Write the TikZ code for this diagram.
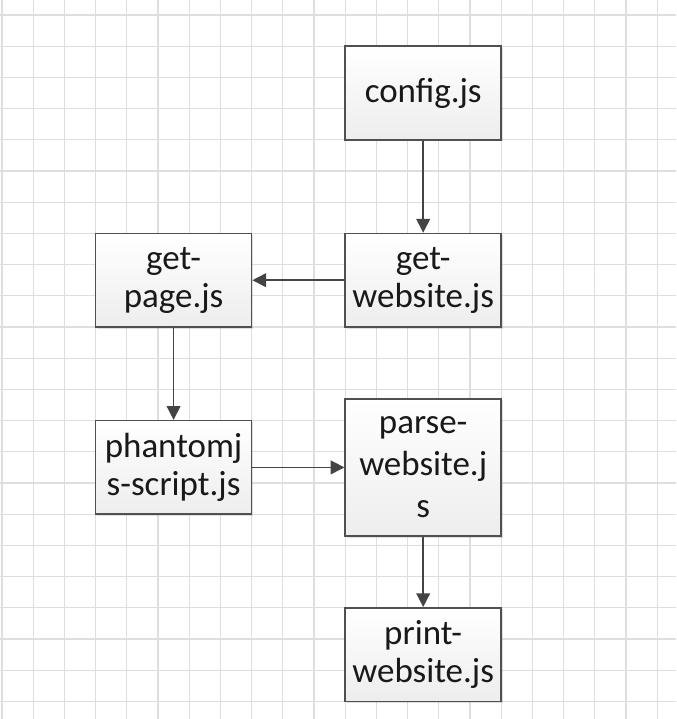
\documentclass[tikz,border=0pt]{standalone}
\usepackage{fontspec}
\setmainfont{Carlito}
\usetikzlibrary{arrows.meta,shadows}
\definecolor{gridgray}{RGB}{222,222,222}
\definecolor{boxline}{RGB}{80,80,80}
\definecolor{arrowgray}{RGB}{68,68,68}

\tikzset{
  filebox/.style={draw=boxline, line width=1.1pt, top color=white, bottom color=black!7,
    drop shadow={shadow xshift=1.2pt, shadow yshift=-1.2pt, opacity=0.25},
    minimum width=4cm, minimum height=2.4cm, align=center, inner sep=0pt,
    font=\fontsize{25.5}{27.4}\selectfont, text=black!90},
  flow/.style={-{Triangle[length=10pt,width=10pt]}, line width=1.1pt, draw=arrowgray, fill=arrowgray}
}

\begin{document}
\begin{tikzpicture}[x=0.8cm, y=-0.8cm]
            \useasboundingbox (-0.064,-0.481) rectangle (21.603,22.564);
            % Grid
            \foreach \i in {0,...,21}
                \draw[gridgray, line width=0.9pt] (\i,-0.481) -- (\i,22.564);
            \foreach \j in {0,...,22}
                \draw[gridgray, line width=0.9pt] (-0.064,\j) -- (21.603,\j);

            % Files, right column
            \node[filebox] (config) at (13.5,2.5) {config.js};
            \node[filebox] (getwebsite) at (13.5,8.5) {get-\\website.js};
            \node[filebox, minimum height=3.52cm, font=\fontsize{25.5}{30.6}\selectfont] (parse) at (13.5,14.5) {parse-\\website.j\\s};
            \node[filebox] (print) at (13.5,20.5) {print-\\website.js};

            % Files, left column
            \node[filebox] (getpage) at (5.5,8.5) {get-\\page.js};
            \node[filebox] (phantom) at (5.5,14.5) {phantomj\\s-script.js};

            % Arrows
            \draw[flow] (config) -- (getwebsite);
            \draw[flow] (getwebsite) -- (getpage);
            \draw[flow] (getpage) -- (phantom);
            \draw[flow] (phantom) -- (parse);
            \draw[flow] (parse) -- (print);
        \end{tikzpicture}
\end{document}
